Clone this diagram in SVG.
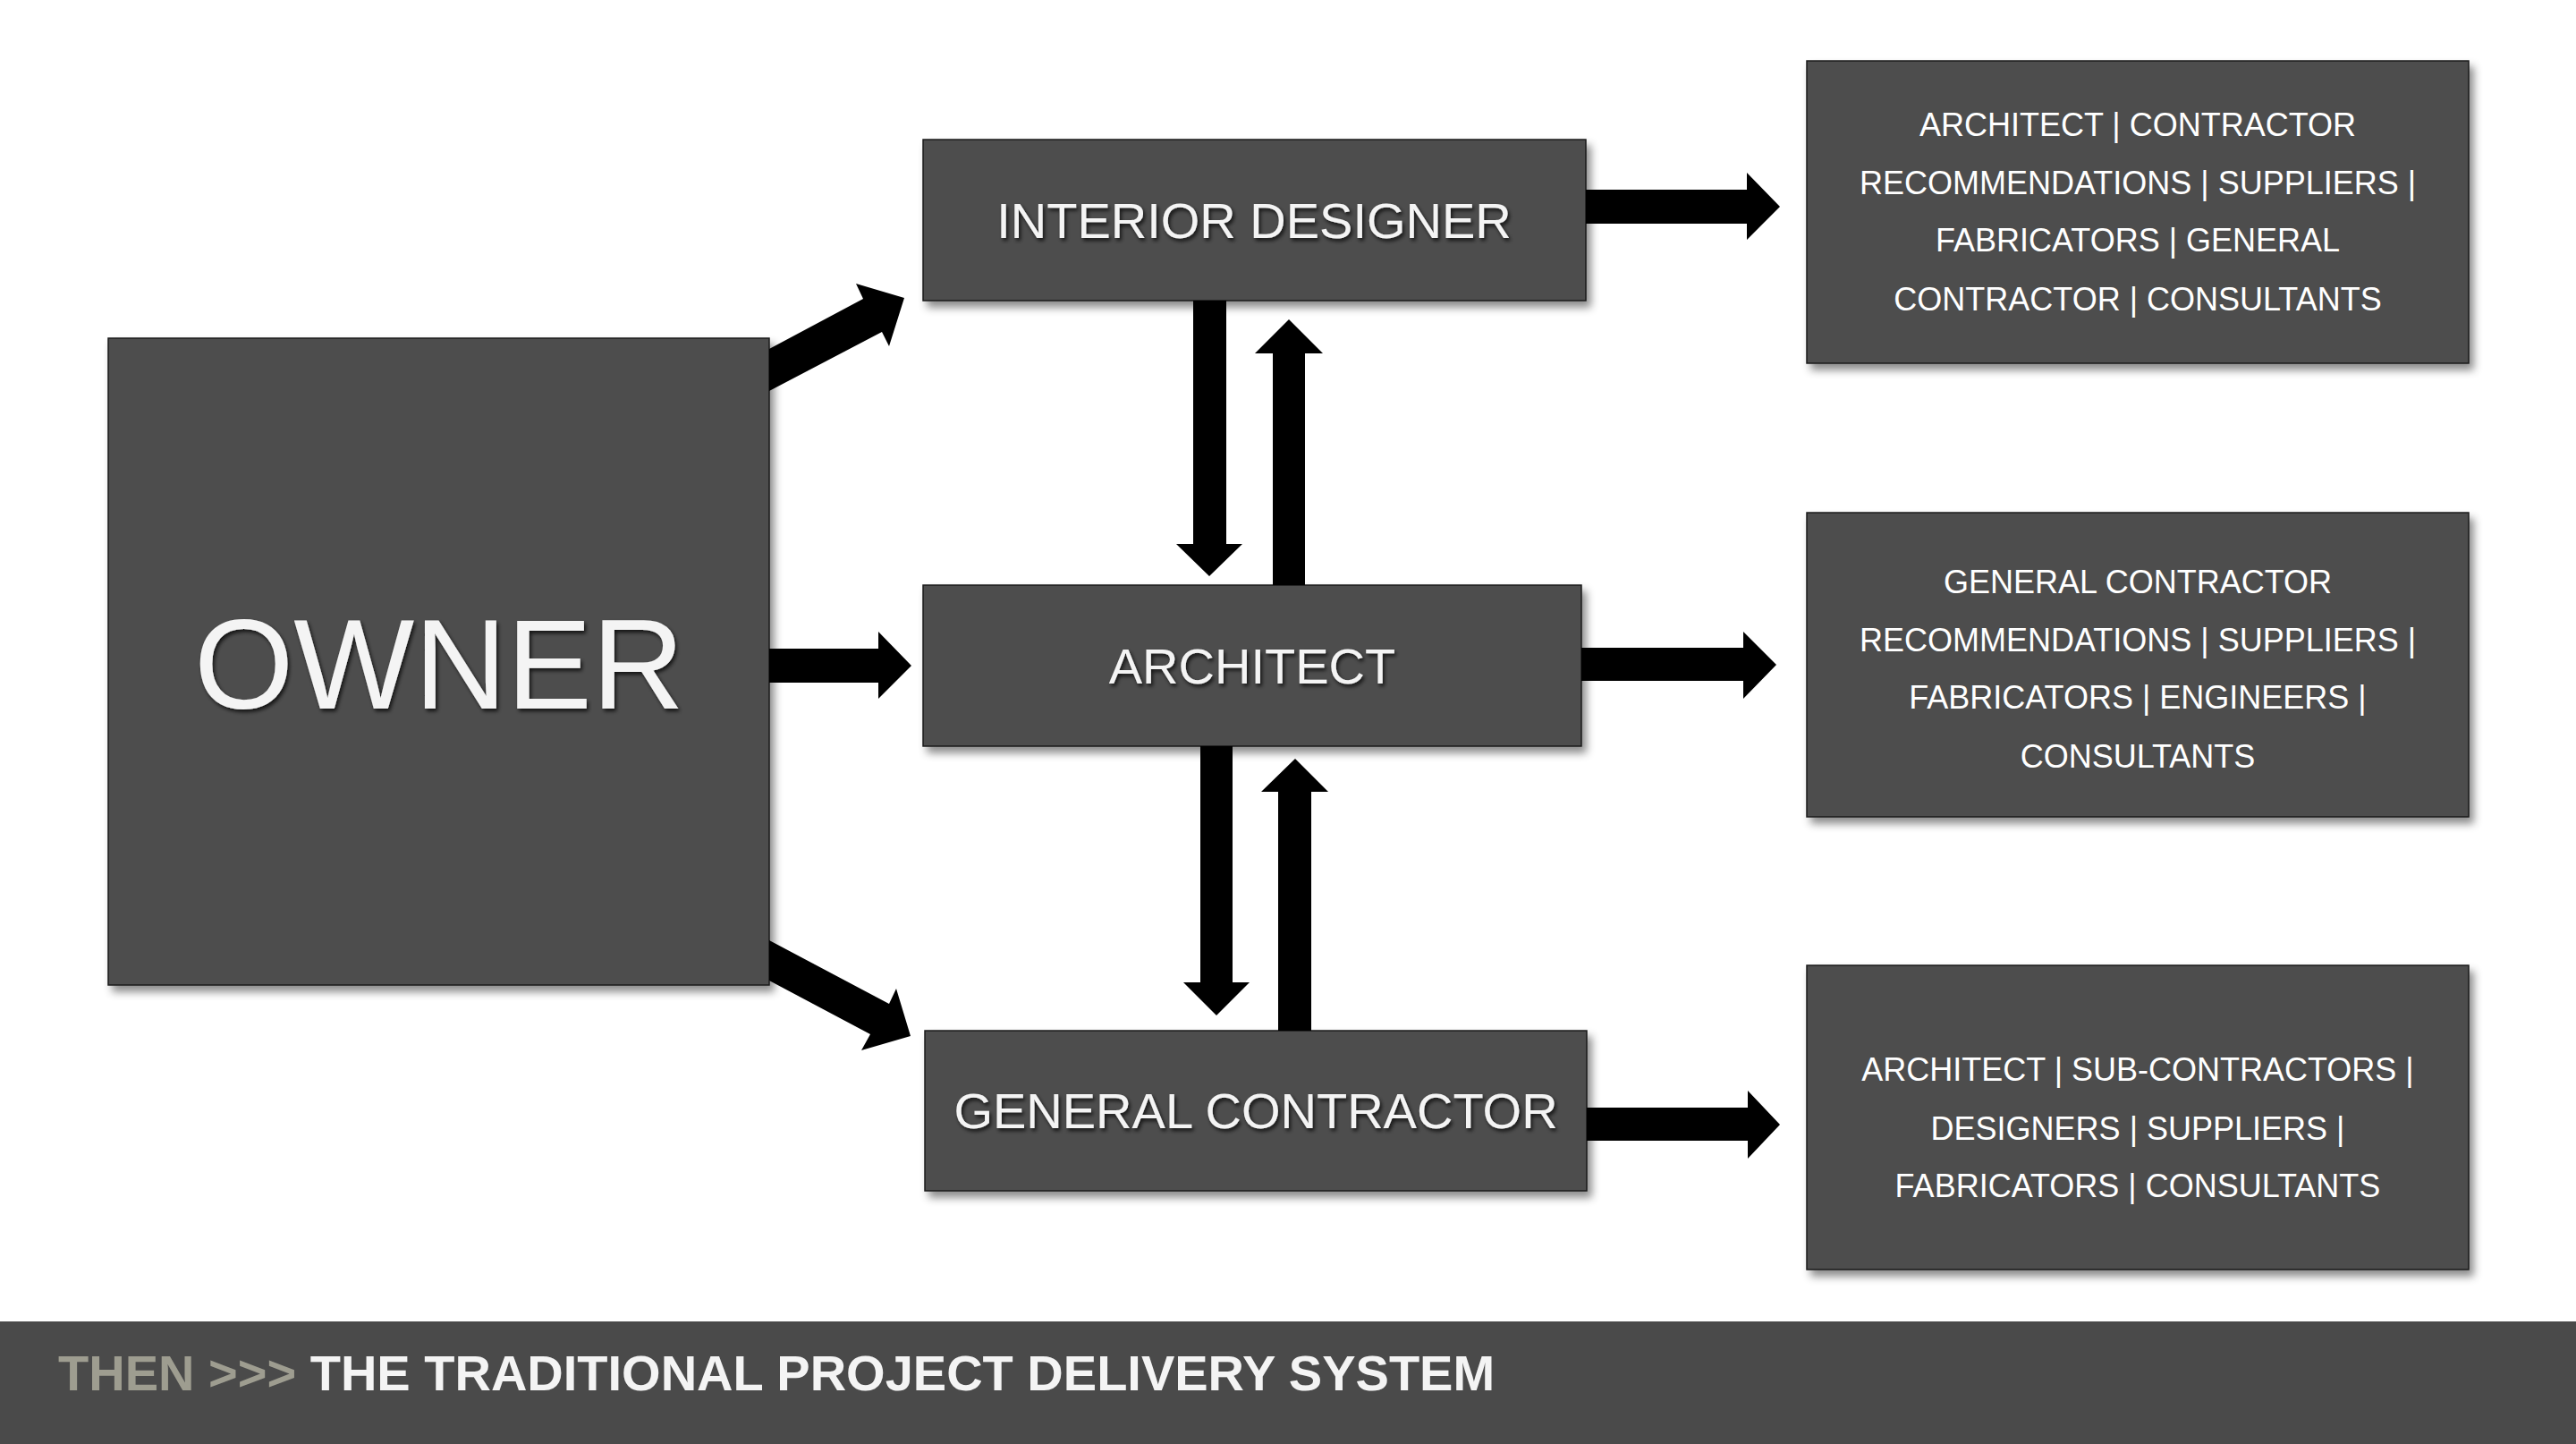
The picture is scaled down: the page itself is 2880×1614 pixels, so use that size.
<svg xmlns="http://www.w3.org/2000/svg" width="2880" height="1614" viewBox="0 0 2880 1614">
<defs>
<filter id="boxShadow" x="-10%" y="-10%" width="125%" height="130%">
<feDropShadow dx="5" dy="7" stdDeviation="5" flood-color="#000" flood-opacity="0.45"/>
</filter>
<filter id="textShadow" x="-5%" y="-20%" width="115%" height="150%">
<feDropShadow dx="2" dy="3" stdDeviation="2" flood-color="#000" flood-opacity="0.75"/>
</filter>
</defs>
<style>
.box{fill:#4e4e4e;stroke:#1c1c1c;stroke-width:1.5;filter:url(#boxShadow);}
.lbl{font-family:"Liberation Sans",Arial,sans-serif;fill:#f4f4f4;text-anchor:middle;filter:url(#textShadow);}
.big{font-size:56px;}
.owner{font-size:143px;}
.list{font-family:"Liberation Sans",Arial,sans-serif;fill:#ffffff;text-anchor:middle;font-size:36px;}
.arrow{fill:#000;}
.foot{font-family:"Liberation Sans",Arial,sans-serif;font-weight:bold;font-size:56px;}
</style>
<rect x="0" y="0" width="2880" height="1614" fill="#ffffff"/>

<g id="owner">
<rect class="box" x="121" y="378" width="739" height="723"/>
<text class="lbl owner" x="491" y="792">OWNER</text>
</g>

<g id="interior-designer">
<rect class="box" x="1032" y="156" width="741" height="180"/>
<text class="lbl big" x="1402" y="266">INTERIOR DESIGNER</text>
</g>

<g id="architect">
<rect class="box" x="1032" y="654" width="736" height="180"/>
<text class="lbl big" x="1400" y="764">ARCHITECT</text>
</g>

<g id="general-contractor">
<rect class="box" x="1034" y="1152" width="740" height="179"/>
<text class="lbl big" x="1404" y="1261">GENERAL CONTRACTOR</text>
</g>

<g id="id-partners">
<rect class="box" x="2020" y="68" width="740" height="338"/>
<text class="list" x="2390" y="152">ARCHITECT | CONTRACTOR</text>
<text class="list" x="2390" y="217">RECOMMENDATIONS | SUPPLIERS |</text>
<text class="list" x="2390" y="281">FABRICATORS | GENERAL</text>
<text class="list" x="2390" y="347">CONTRACTOR | CONSULTANTS</text>
</g>

<g id="architect-partners">
<rect class="box" x="2020" y="573" width="740" height="340"/>
<text class="list" x="2390" y="663">GENERAL CONTRACTOR</text>
<text class="list" x="2390" y="728">RECOMMENDATIONS | SUPPLIERS |</text>
<text class="list" x="2390" y="792">FABRICATORS | ENGINEERS |</text>
<text class="list" x="2390" y="858">CONSULTANTS</text>
</g>

<g id="gc-partners">
<rect class="box" x="2020" y="1079" width="740" height="340"/>
<text class="list" x="2390" y="1208">ARCHITECT | SUB-CONTRACTORS |</text>
<text class="list" x="2390" y="1274">DESIGNERS | SUPPLIERS |</text>
<text class="list" x="2390" y="1338">FABRICATORS | CONSULTANTS</text>
</g>

<g id="connectors">
<!-- Owner to Interior Designer -->
<polygon class="arrow" points="860,390 965,334 957,317 1011,333 994,387 986,371 860,437"/>
<!-- Owner to Architect -->
<polygon class="arrow" points="860,725 982,725 982,706 1019,744 982,781 982,763 860,763"/>
<!-- Owner to General Contractor -->
<polygon class="arrow" points="860,1051 994,1122 1002,1105 1018,1158 963,1174 973,1156 860,1096"/>
<!-- Interior Designer to Architect (down) -->
<polygon class="arrow" points="1334,336 1371,336 1371,608 1389,608 1352,644 1315,608 1334,608"/>
<!-- Architect to Interior Designer (up) -->
<polygon class="arrow" points="1423,654 1459,654 1459,395 1479,395 1441,357 1403,395 1423,395"/>
<!-- Architect to General Contractor (down) -->
<polygon class="arrow" points="1342,834 1378,834 1378,1098 1397,1098 1360,1135 1323,1098 1342,1098"/>
<!-- General Contractor to Architect (up) -->
<polygon class="arrow" points="1429,1152 1466,1152 1466,885 1485,885 1448,848 1410,885 1429,885"/>
<!-- Interior Designer to partners -->
<polygon class="arrow" points="1773,212 1953,212 1953,193 1990,231 1953,268 1953,250 1773,250"/>
<!-- Architect to partners -->
<polygon class="arrow" points="1768,724 1949,724 1949,706 1986,743 1949,781 1949,761 1768,761"/>
<!-- General Contractor to partners -->
<polygon class="arrow" points="1774,1238 1954,1238 1954,1219 1990,1257 1954,1295 1954,1275 1774,1275"/>
</g>

<g id="footer">
<rect x="0" y="1477" width="2880" height="137" fill="#4a4a4a"/>
<text class="foot" x="65" y="1554"><tspan fill="#9e9d90">THEN &gt;&gt;&gt; </tspan><tspan fill="#f4f4f4">THE TRADITIONAL PROJECT DELIVERY SYSTEM</tspan></text>
</g>
</svg>
